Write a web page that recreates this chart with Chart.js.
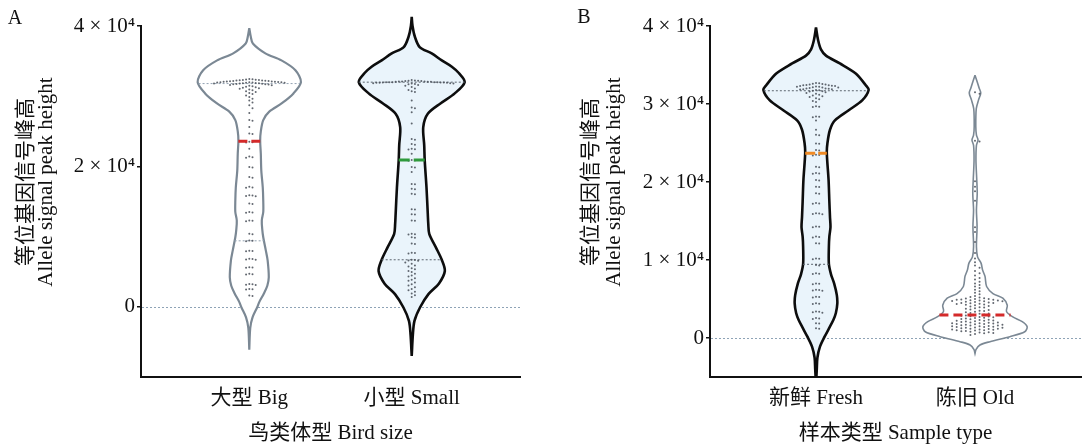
<!DOCTYPE html>
<html><head><meta charset="utf-8">
<script src="https://cdn.jsdelivr.net/npm/chart.js@4.4.1/dist/chart.umd.min.js"></script>
<style>
html,body{margin:0;padding:0;background:#fff;width:1085px;height:446px;overflow:hidden}
#a{position:absolute;left:0;top:0}
#b{position:absolute;left:545px;top:0}
</style></head><body>
<canvas id="a" width="545" height="446"></canvas>
<canvas id="b" width="540" height="446"></canvas>
<script>
// ---------------- data ----------------
const catsA = ['大型 Big', '小型 Small'];
const catsB = ['新鲜 Fresh', '陈旧 Old'];
const xTitleA = '鸟类体型 Bird size';
const xTitleB = '样本类型 Sample type';
const yTitleZh = '等位基因信号峰高';
const yTitleEn = 'Allele signal peak height';
const ticksA = [0, 20000, 40000];
const ticksB = [0, 10000, 20000, 30000, 40000];
const tickLabels = {0: '0', 10000: '1 × 10⁴', 20000: '2 × 10⁴', 30000: '3 × 10⁴', 40000: '4 × 10⁴'};

// violin outlines: values (top to bottom) and half-widths in category units
const bigV = [39700, 38500, 37500, 36100, 35100, 33700, 32000, 30400, 29000, 27800, 26600, 25000, 23700, 21800, 19400, 17000, 15100, 13500, 12300, 11000, 9900, 8000, 6600, 4200, 3000, 1900, 700, -100, -1500, -3000, -6100];
const bigW = [0, .009, .022, .099, .198, .284, .318, .272, .201, .123, .086, .071, .067, .071, .074, .083, .086, .086, .077, .080, .086, .102, .113, .120, .111, .090, .062, .048, .020, .006, 0];
const smallV = [41300, 40000, 38500, 37000, 36100, 35100, 34200, 33300, 32000, 30400, 29000, 27500, 25600, 23000, 20900, 17000, 13200, 11800, 10400, 8500, 6700, 5100, 3300, 1800, -100, -2000, -4000, -7000];
const smallW = [0, .005, .019, .049, .123, .185, .247, .290, .326, .265, .179, .099, .071, .077, .080, .091, .099, .102, .108, .148, .185, .204, .167, .103, .051, .017, .007, 0];
const freshV = [39800, 38200, 37000, 36200, 35200, 33900, 32400, 31800, 30500, 29200, 27900, 26700, 25000, 23700, 20300, 17500, 15500, 14200, 13000, 11700, 9500, 8200, 7000, 5500, 4400, 3200, 2300, 1200, 200, -1100, -2500, -4000, -6000];
const freshW = [0, .013, .031, .063, .150, .250, .313, .331, .292, .206, .119, .088, .072, .068, .079, .084, .088, .091, .084, .081, .081, .094, .114, .131, .134, .125, .109, .081, .055, .025, .009, .005, 0];
const oldV = [33700, 32000, 31400, 30500, 29400, 27100, 26000, 25400, 24700, 22800, 20300, 18500, 16400, 14300, 11700, 10400, 9600, 8700, 7900, 6600, 5700, 5100, 4200, 3400, 2700, 2100, 1450, 800, 170, -470, -900, -1500, -2000];
const oldW = [0, .027, .036, .022, .008, .005, .009, .019, .009, .006, .011, .014, .009, .013, .009, .016, .038, .048, .063, .073, .113, .175, .203, .198, .238, .297, .328, .313, .219, .094, .031, .006, 0];

const medA = [23600, 20900];
const medB = [23700, 2950];
const quartA = [[31800, 9400], [32000, 6700]];
const quartB = [[31700, 9450], []];

// individual observations
const bigPts = [32450, 32400, 32380, 32350, 32320, 32300, 32280, 32250, 32230, 32200, 32180, 32150, 32130, 32100, 32080, 32060, 32050, 32030, 32000, 31990, 31980, 31960, 31940, 31920, 31900, 31880, 31860, 31840, 31820, 31800, 31780, 31750, 31720, 31700, 31650, 31600, 31550, 31500, 31420, 31350, 31280, 31200, 31120, 31050, 30950, 30850, 30700, 30600, 30450, 30300, 30100, 29900, 29650, 29400, 29100, 28700, 28300, 27600, 26600, 26500, 25600, 24700, 24600, 23500, 23450, 23400, 22500, 21400, 21300, 21250, 19900, 19850, 18500, 18400, 17100, 17000, 16950, 15900, 15850, 15800, 15750, 14700, 14650, 13500, 13450, 13400, 12300, 12250, 12200, 10400, 10350, 9450, 9400, 9350, 8000, 7950, 7900, 6850, 6800, 6750, 6700, 5650, 5600, 5550, 4700, 4650, 4600, 3250, 3200, 3150, 3100, 2550, 2500, 2450, 1600, 1550];
const smallPts = [32300, 32250, 32200, 32200, 32150, 32150, 32100, 32100, 32100, 32050, 32050, 32050, 32000, 32000, 32000, 32000, 32000, 31950, 31950, 31950, 31900, 31900, 31900, 31850, 31850, 31800, 31800, 31750, 31700, 31600, 31500, 31300, 31100, 30900, 30700, 30600, 29400, 28400, 28300, 27700, 26100, 23900, 23800, 23200, 23100, 22500, 22450, 22400, 21800, 20900, 20850, 20800, 19900, 19850, 19200, 17500, 17450, 16800, 16750, 16100, 16050, 13900, 13850, 13200, 13150, 12300, 12250, 10400, 10350, 10300, 9900, 9850, 9000, 8950, 7700, 7650, 7600, 6700, 6650, 6600, 6550, 6300, 6150, 5900, 5750, 5500, 5350, 5100, 4950, 4700, 4450, 4300, 4050, 3850, 3700, 3450, 3200, 3050, 2800, 2550, 2350, 2150, 1900, 1650, 1400];
const freshPts = [32700, 32650, 32600, 32550, 32500, 32500, 32450, 32400, 32400, 32350, 32300, 32300, 32250, 32200, 32200, 32150, 32100, 32100, 32050, 32000, 32000, 31950, 31900, 31900, 31850, 31800, 31750, 31700, 31650, 31600, 31500, 31400, 31300, 31200, 31100, 31000, 30900, 30750, 30600, 30400, 30250, 29700, 29650, 29600, 28400, 28350, 28300, 27900, 26700, 26050, 26000, 24950, 24900, 24100, 24050, 23500, 23450, 23400, 21950, 21900, 21150, 21100, 21050, 20250, 20200, 19400, 19350, 18550, 18500, 17300, 17250, 17200, 16000, 15950, 15900, 15850, 14300, 14250, 14200, 13000, 12950, 12900, 12150, 12100, 10200, 10150, 10100, 9350, 9300, 8300, 8250, 8200, 7000, 6950, 6900, 6200, 6150, 6100, 6050, 5300, 5250, 5200, 4450, 4400, 4350, 3400, 3350, 3300, 3250, 2550, 2500, 2450, 1900, 1850, 1250, 1200];
const oldPts = [31500, 31300, 25300, 25200, 20100, 19400, 18800, 17600, 14200, 13600, 12300, 10900, 10200, 9700, 9300, 9000, 8600, 8300, 8000, 7700, 7500, 7200, 7000, 6800, 6600, 6400, 6200, 6000, 5800, 5600, 5400, 5250, 5200, 5100, 5050, 5000, 5000, 4950, 4900, 4900, 4850, 4800, 4800, 4750, 4700, 4700, 4650, 4600, 4550, 4500, 4500, 4450, 4400, 4350, 4300, 4250, 4200, 4100, 4050, 3950, 3900, 3800, 3750, 3650, 3600, 3500, 3450, 3350, 3300, 3200, 3150, 3100, 3000, 2950, 2900, 2850, 2800, 2750, 2700, 2650, 2600, 2550, 2500, 2450, 2400, 2350, 2300, 2250, 2200, 2200, 2150, 2100, 2050, 2000, 2000, 1950, 1900, 1900, 1850, 1800, 1800, 1750, 1700, 1700, 1650, 1600, 1600, 1550, 1500, 1500, 1450, 1400, 1400, 1350, 1300, 1300, 1250, 1200, 1200, 1150, 1100, 1100, 1050, 1000, 1000, 950, 900, 850, 800, 750, 700, 650, 600, 500, 400];

// ---------------- helpers ----------------
const FONT = "'Liberation Serif','Noto Sans CJK SC',serif";

function widthAt(vals, wids, v) {
  for (let i = 0; i < vals.length - 1; i++) {
    if (vals[i] >= v && v >= vals[i + 1]) {
      const t = (vals[i] - v) / (vals[i] - vals[i + 1]);
      return wids[i] + t * (wids[i + 1] - wids[i]);
    }
  }
  return 0;
}
// beeswarm placement (layout only): offsets in pixel steps
function swarm(vals, c, p) {
  const sorted = vals.slice().sort((a, b) => b - a);
  const placed = [], out = [];
  for (const v of sorted) {
    const yp = v * p.py;
    for (let k = 0; k < 400; k++) {
      const off = k === 0 ? 0 : (k % 2 ? Math.ceil(k / 2) : -k / 2) * p.gx;
      if (!placed.some(q => Math.abs(q.y - yp) < p.gy && Math.abs(q.x - off) < p.gx * 0.99)) {
        placed.push({x: off, y: yp});
        out.push({x: c + off / p.px, y: v});
        break;
      }
    }
  }
  return out;
}
function violin(c, vals, wids, pts, med, quarts, st, sw) {
  const outline = [];
  for (let i = 0; i < vals.length; i++) outline.push({x: c - wids[i], y: vals[i]});
  for (let i = vals.length - 1; i >= 0; i--) outline.push({x: c + wids[i], y: vals[i]});
  const ds = [{type: 'line', data: outline, borderColor: st.line, borderWidth: st.lw, backgroundColor: st.fill,
    fill: 'shape', pointRadius: 0, tension: 0.3, capBezierPoints: false, clip: st.clip, order: 5}];
  quarts.forEach(q => {
    const w = widthAt(vals, wids, q);
    ds.push({type: 'line', data: [{x: c - w, y: q}, {x: c + w, y: q}], borderColor: st.q, borderWidth: 1,
      borderDash: [2, 2], pointRadius: 0, fill: false, order: 3});
  });
  ds.push({type: 'scatter', data: swarm(pts, c, sw), pointRadius: 1, pointBackgroundColor: 'rgba(70,76,86,0.85)',
    pointBorderWidth: 0, order: 2});
  const w = widthAt(vals, wids, med);
  ds.push({type: 'line', data: [{x: c - w, y: med}, {x: c + w, y: med}], borderColor: st.med, borderWidth: 3,
    borderDash: st.dash, pointRadius: 0, fill: false, order: 1});
  return ds;
}

const zeroLine = {
  id: 'zeroLine',
  beforeDatasetsDraw(chart) {
    const {ctx, chartArea: a, scales: {y}} = chart;
    const py = Math.round(y.getPixelForValue(0)) + 0.5;
    ctx.save();
    ctx.strokeStyle = '#8ea3b6'; ctx.lineWidth = 1; ctx.setLineDash([2, 2]);
    ctx.beginPath(); ctx.moveTo(a.left + 1, py); ctx.lineTo(a.right, py); ctx.stroke();
    ctx.restore();
  }
};
function textPlugin(letter, lx, ly, zhX, enX, cy) {
  return {
    id: 'texts',
    afterDraw(chart) {
      const ctx = chart.ctx;
      ctx.save();
      ctx.fillStyle = '#111';
      ctx.textAlign = 'center'; ctx.textBaseline = 'middle';
      ctx.font = '20px ' + FONT;
      ctx.fillText(letter, lx, ly);
      ctx.translate(zhX, cy); ctx.rotate(-Math.PI / 2);
      ctx.font = '21px ' + FONT;
      ctx.fillText(yTitleZh, 0, 0);
      ctx.restore();
      ctx.save();
      ctx.fillStyle = '#111';
      ctx.textAlign = 'center'; ctx.textBaseline = 'middle';
      ctx.translate(enX, cy); ctx.rotate(-Math.PI / 2);
      ctx.font = '21px ' + FONT;
      ctx.fillText(yTitleEn, 0, 0);
      ctx.restore();
    }
  };
}
function makeChart(id, cats, xTitle, ticks, yMin, datasets, yw, rightPad, texts) {
  return new Chart(document.getElementById(id), {
    type: 'scatter',
    data: {datasets},
    options: {
      responsive: false, animation: false, events: [], devicePixelRatio: 1,
      layout: {padding: {top: 26, right: rightPad, left: 0, bottom: 0}},
      plugins: {legend: {display: false}, tooltip: {enabled: false}},
      scales: {
        x: {type: 'linear', min: -2 / 3, max: 5 / 3,
          afterBuildTicks: s => { s.ticks = [{value: 0}, {value: 1}]; },
          afterFit: s => { s.height = 69; },
          grid: {display: false, drawTicks: false},
          border: {display: true, color: '#111', width: 2},
          ticks: {callback: v => cats[v], font: {family: FONT, size: 21}, color: '#111', padding: 9, maxRotation: 0, autoSkip: false},
          title: {display: true, text: xTitle, font: {family: FONT, size: 21}, color: '#111', padding: {top: 0, bottom: 0}}
        },
        y: {type: 'linear', min: yMin, max: 40000,
          afterBuildTicks: s => { s.ticks = ticks.map(v => ({value: v})); },
          afterFit: s => { s.width = yw; },
          grid: {display: true, drawOnChartArea: false, drawTicks: true, tickLength: 4, color: '#111', lineWidth: 1.5},
          border: {display: true, color: '#111', width: 2},
          ticks: {callback: v => tickLabels[v], font: {family: FONT, size: 21}, color: '#111', padding: 2}
        }
      }
    },
    plugins: [zeroLine, texts]
  });
}

const grayStyle = {line: '#7b8894', lw: 2.2, fill: '#ffffff', q: '#93a3b3', clip: false};
const blackStyle = {line: '#0d0d0d', lw: 2.6, fill: '#eaf4fb', q: '#5d6670', clip: false};
const swA = {py: 0.007, px: 162, gx: 3.2, gy: 3.2};
const swB = {py: 0.0078, px: 160, gx: 3.2, gy: 3.2};
const swOld = {py: 0.0078, px: 160, gx: 4.6, gy: 3.0};

const dsA = [].concat(
  violin(0, bigV, bigW, bigPts, medA[0], quartA[0], Object.assign({}, grayStyle, {med: '#d42a2a', dash: [9, 4]}), swA),
  violin(1, smallV, smallW, smallPts, medA[1], quartA[1], Object.assign({}, blackStyle, {med: '#2e9a3c', dash: [11, 4]}), swA)
);
const dsB = [].concat(
  violin(0, freshV, freshW, freshPts, medB[0], quartB[0], Object.assign({}, blackStyle, {med: '#f08a24', dash: [10, 3], clip: undefined}), swB),
  violin(1, oldV, oldW, oldPts, medB[1], quartB[1], Object.assign({}, grayStyle, {lw: 1.6, med: '#d42a2a', dash: [9, 5], clip: undefined}), swOld)
);

makeChart('a', catsA, xTitleA, ticksA, -10000, dsA, 141, 25, textPlugin('A', 15, 19, 26, 46.5, 182));
makeChart('b', catsB, xTitleB, ticksB, -5000, dsB, 165, 1, textPlugin('B', 39, 18, 46.5, 69, 182));
</script>
</body></html>
